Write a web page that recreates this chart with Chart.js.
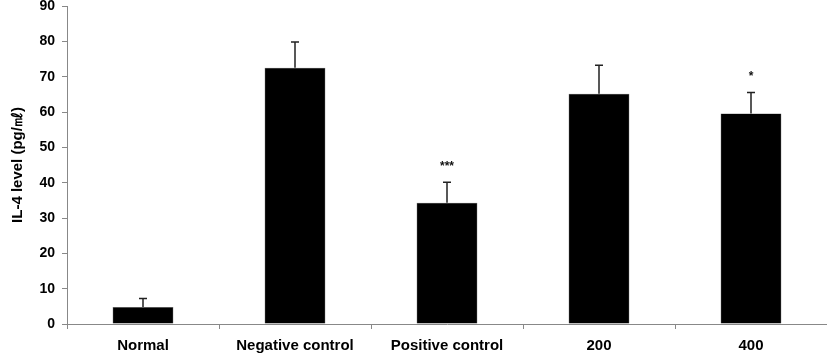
<!DOCTYPE html>
<html><head><meta charset="utf-8">
<script src="https://cdn.jsdelivr.net/npm/chart.js@4/dist/chart.umd.min.js"></script>
<style>html,body{margin:0;padding:0;background:#fff}#wrap{width:827px;height:354px}</style>
</head><body><div id="wrap"><canvas id="c" width="827" height="354"></canvas></div>
<script>
const categories = ["Normal", "Negative control", "Positive control", "200", "400"];
const values = [4.8, 72.5, 34.3, 65.2, 59.6];
const errors = [2.4, 7.3, 5.8, 8.0, 5.9];
const marks = ["", "", "***", "", "*"];
const yTicks = [0, 10, 20, 30, 40, 50, 60, 70, 80, 90];

const FONT = '"Liberation Sans", Arial, sans-serif';

const errPlugin = {
  id: 'err',
  afterDatasetsDraw(chart) {
    const ctx = chart.ctx, meta = chart.getDatasetMeta(0), y = chart.scales.y;
    ctx.save();
    meta.data.forEach((bar, i) => {
      const top = y.getPixelForValue(values[i] + errors[i]);
      const base = y.getPixelForValue(values[i]);
      ctx.strokeStyle = '#222'; ctx.lineWidth = 1.5;
      ctx.beginPath(); ctx.moveTo(bar.x, base); ctx.lineTo(bar.x, top);
      ctx.moveTo(bar.x - 4, top); ctx.lineTo(bar.x + 4, top); ctx.stroke();
      if (marks[i]) {
        ctx.fillStyle = '#111'; ctx.font = 'bold 12px ' + FONT;
        ctx.textAlign = 'center'; ctx.textBaseline = 'middle';
        ctx.fillText(marks[i], bar.x, top - 16);
      }
    });
    ctx.restore();
  }
};

new Chart(document.getElementById('c'), {
  type: 'bar',
  data: { labels: categories, datasets: [{ data: values, backgroundColor: '#000', borderColor: '#555', borderWidth: 0.5, barPercentage: 0.4, categoryPercentage: 1 }] },
  options: {
    responsive: false, animation: false, devicePixelRatio: 1,
    layout: { padding: { top: 6, right: 0, left: 0, bottom: 0 } },
    plugins: { legend: { display: false }, tooltip: { enabled: false } },
    scales: {
      x: {
        afterFit(s) { s.height = 30; s.paddingLeft = 0; s.paddingRight = 0; },
        grid: { drawOnChartArea: false, tickLength: 5, color: '#888', offset: true },
        border: { color: '#888', width: 1 },
        ticks: { color: '#000', padding: 8, maxRotation: 0, font: { family: FONT, size: 15, weight: 'bold' } }
      },
      y: {
        min: 0, max: 90,
        afterFit(s) { s.width = 67; s.paddingTop = 0; s.paddingBottom = 0; },
        afterBuildTicks(s) { s.ticks = yTicks.map(v => ({ value: v })); },
        grid: { drawOnChartArea: false, tickLength: 5, color: '#888' },
        border: { color: '#888', width: 1 },
        title: { display: true, text: 'IL-4 level (pg/㎖)', color: '#000', padding: { top: 9, bottom: 0 }, font: { family: FONT, size: 15, weight: 'bold' } },
        ticks: { color: '#000', padding: 7, font: { family: FONT, size: 14, weight: 'bold' } }
      }
    }
  },
  plugins: [errPlugin]
});
</script></body></html>
